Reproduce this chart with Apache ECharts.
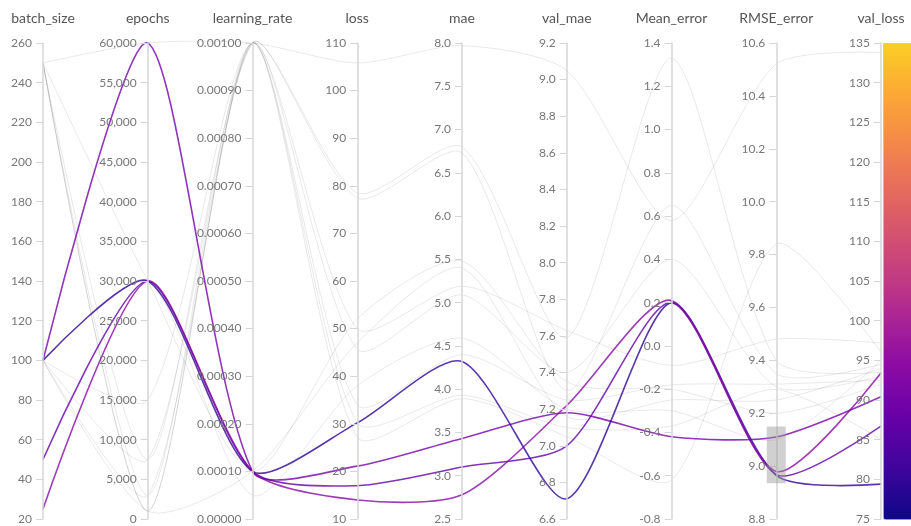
<!DOCTYPE html>
<html>
<head>
<meta charset="utf-8">
<script src="https://cdn.jsdelivr.net/npm/echarts/dist/echarts.min.js"></script>
<style>
  html, body { margin: 0; padding: 0; background: #fff; }
  #chart { width: 911px; height: 526px; }
</style>
</head>
<body>
<div id="chart"></div>
<script>
// ---- axes ----
const dimensions = ['batch_size', 'epochs', 'learning_rate', 'loss', 'mae', 'val_mae', 'Mean_error', 'RMSE_error', 'val_loss'];
const axisMin  = [20, 0, 0, 10, 2.5, 6.6, -0.8, 8.8, 75];
const axisMax  = [260, 60000, 0.001, 110, 8.0, 9.2, 1.4, 10.6, 135];
const axisStep = [20, 5000, 0.0001, 10, 0.5, 0.2, 0.2, 0.2, 5];
const labelDigits = [0, 0, 5, 0, 1, 1, 1, 1, 0];
const brushRange = [8.935, 9.15];   // selection on RMSE_error

// ---- highlighted runs (inside the RMSE_error selection) ----
const hlBatch   = [100, 100, 50, 25];
const hlEpochs  = [60000, 30000, 30000, 30000];
const hlLR      = [0.0001, 0.0001, 0.0001, 0.0001];
const hlLoss    = [21.1, 30.2, 17.0, 14.0];
const hlMae     = [3.43, 4.32, 3.10, 2.78];
const hlValMae  = [7.18, 6.71, 7.00, 7.22];
const hlMean    = [-0.42, 0.20, 0.20, 0.21];
const hlRmse    = [9.11, 8.965, 8.968, 8.98];
const hlValLoss = [90.4, 79.4, 86.7, 93.4];

// ---- other runs (greyed out) ----
const gBatch   = [250, 250, 250, 100, 250, 100, 100, 250, 250, 100, 100];
const gEpochs  = [60000, 7500, 3000, 15000, 1000, 7500, 3000, 1000, 30000, 1000, 30000];
const gLR      = [0.001, 0.001, 0.001, 0.001, 0.001, 0.001, 0.001, 0.001, 0.0001, 0.0001, 0.00005];
const gLoss    = [105.8, 78.5, 77.4, 50.0, 45.7, 34.0, 30.2, 27.2, 52.0, 47.0, 38.0];
const gMae     = [7.97, 6.80, 6.73, 5.19, 5.09, 4.40, 3.93, 3.89, 5.48, 5.40, 4.59];
const gValMae  = [9.05, 7.59, 7.30, 7.63, 7.40, 7.25, 7.10, 7.05, 7.35, 7.16, 7.20];
const gMean    = [0.58, 1.33, 0.65, -0.09, 0.40, -0.18, -0.37, -0.62, -0.20, -0.25, -0.30];
const gRmse    = [10.52, 9.40, 9.35, 9.48, 9.30, 9.31, 9.29, 9.84, 9.20, 9.25, 9.10];
const gValLoss = [133.8, 93.5, 94.5, 97.2, 93.0, 92.5, 85.0, 96.0, 92.0, 94.0, 95.0];

// plasma colour scale (75 -> 135)
const plasma = ['#0d0887', '#41049d', '#6a00a8', '#8f0da4', '#b12a90', '#cc4778', '#e16462', '#f2844b', '#fca636', '#fcce25'];

function rows(cols) {
  return cols[0].map((_, i) => cols.map(c => c[i]));
}
const hlData = rows([hlBatch, hlEpochs, hlLR, hlLoss, hlMae, hlValMae, hlMean, hlRmse, hlValLoss]);
const gData  = rows([gBatch, gEpochs, gLR, gLoss, gMae, gValMae, gMean, gRmse, gValLoss]);

const FONT = 'Lato, "Noto Sans", sans-serif';

function fmt(i) {
  return function (v) {
    if (Math.abs(v) < 1e-12) v = 0;
    if (labelDigits[i] === 0 && axisMax[i] >= 10000) return Math.round(v).toLocaleString('en-US');
    return v.toFixed(labelDigits[i]);
  };
}

const parallelAxis = dimensions.map((name, i) => ({
  id: 'ax' + i,
  dim: i,
  name: name,
  type: 'value',
  min: axisMin[i],
  max: axisMax[i],
  interval: axisStep[i],
  nameLocation: 'end',
  nameGap: 18,
  nameTextStyle: { color: '#555', fontSize: 14, fontFamily: FONT },
  axisLine: { show: true, lineStyle: { color: '#d6d6d6', width: 1.5 } },
  axisTick: { show: true, length: -7, lineStyle: { color: '#d6d6d6', width: 1 } },
  axisLabel: { show: true, margin: -11, align: 'right', color: '#777', fontSize: 12, fontFamily: FONT, formatter: fmt(i) },
  splitLine: { show: false }
}));

const chart = echarts.init(document.getElementById('chart'), null, { renderer: 'canvas' });
chart.setOption({
  animation: false,
  backgroundColor: '#fff',
  parallel: {
    left: 43, right: 30, top: 43, bottom: 7,
    layout: 'horizontal'
  },
  parallelAxis: parallelAxis,
  visualMap: {
    type: 'continuous',
    seriesIndex: 1,
    dimension: 8,
    min: 75,
    max: 135,
    calculable: false,
    hoverLink: false,
    left: 883,
    top: 43,
    itemWidth: 30,
    itemHeight: 476,
    padding: 0,
    text: null,
    borderColor: '#c8c8c8',
    borderWidth: 1,
    inRange: { color: plasma }
  },
  series: [
    {
      type: 'parallel',
      name: 'other',
      data: gData,
      smooth: 0.25,
      lineStyle: { color: 'rgba(0,0,0,0.09)', width: 1, opacity: 1 },
      z: 1
    },
    {
      type: 'parallel',
      name: 'selected',
      data: hlData,
      smooth: 0.25,
      lineStyle: { width: 1.6, opacity: 0.8 },
      z: 2
    }
  ]
});

// brush selection box on the RMSE_error axis
try {
  const cs = chart.getModel().getComponent('parallel').coordinateSystem;
  const top = cs.dataToPoint(brushRange[1], 'dim7');
  const bot = cs.dataToPoint(brushRange[0], 'dim7');
  chart.setOption({
    graphic: [{
      type: 'rect', z: 100,
      shape: { x: top[0] - 9.5, y: top[1], width: 19, height: bot[1] - top[1] },
      style: { fill: 'rgba(150,150,150,0.45)' }
    }]
  });
} catch (e) { console.error(e); }
</script>
</body>
</html>
